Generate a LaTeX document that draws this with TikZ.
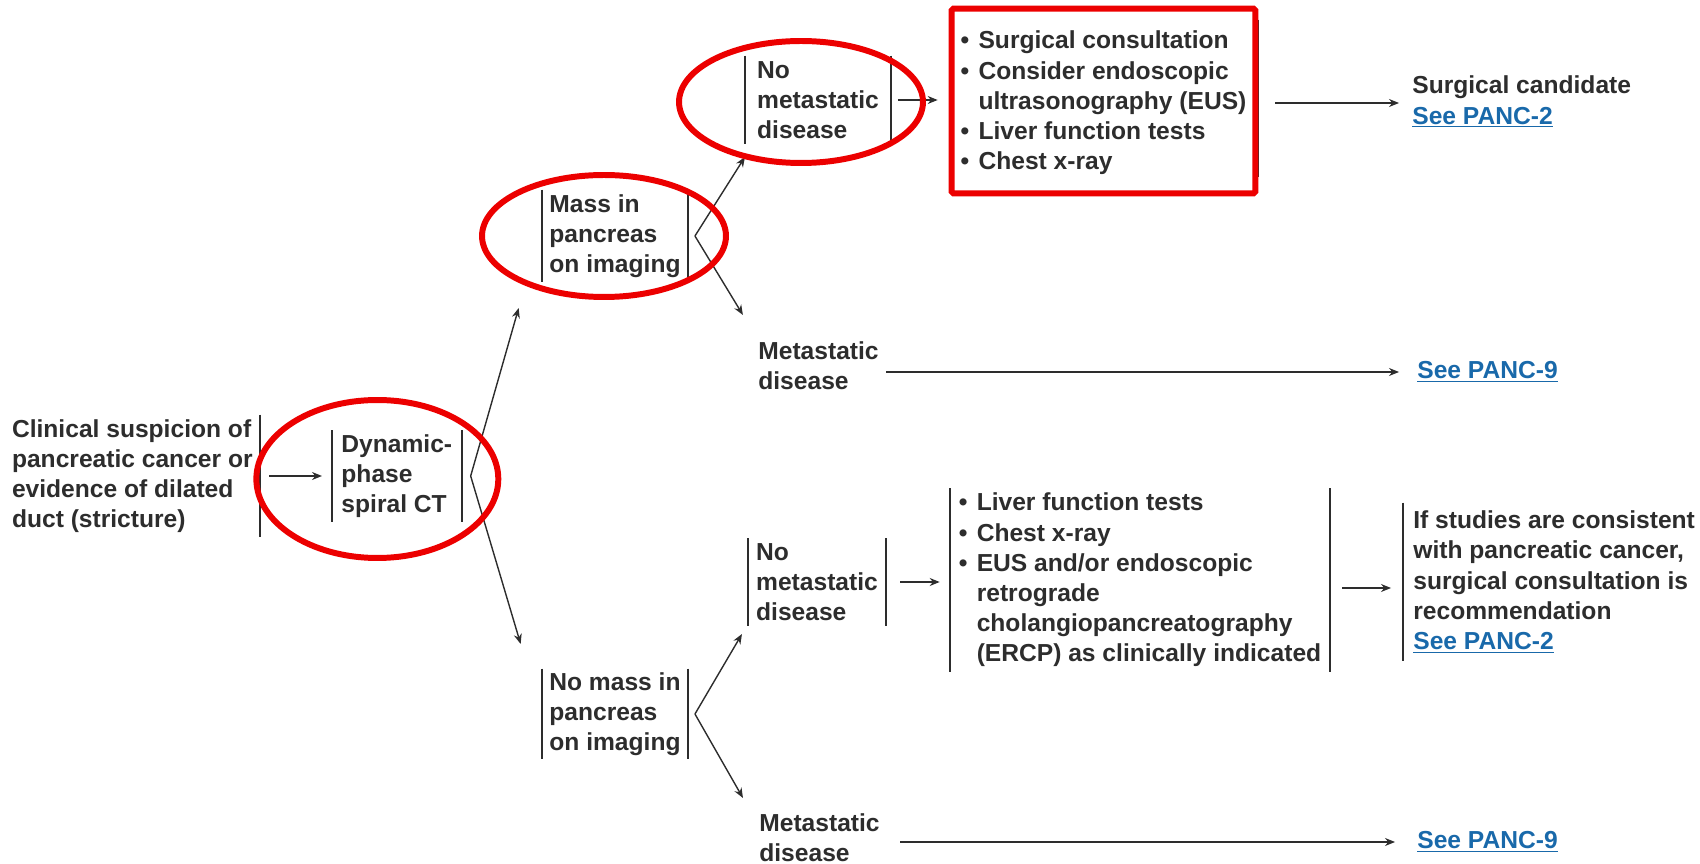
\documentclass[tikz,border=0pt]{standalone}
\usepackage{fontspec}
\setmainfont{Liberation Sans}
\usepackage{xcolor}
\usetikzlibrary{arrows.meta, positioning, calc}

\definecolor{inkgray}{RGB}{45,45,45}
\definecolor{notered}{RGB}{236,0,0}
\definecolor{linkblue}{RGB}{25,105,170}

\newcommand{\bul}{\makebox[0.36cm][l]{\textbullet}}
\newcommand{\cont}{\hspace*{0.36cm}}
\newcommand{\seelink}[1]{\textcolor{linkblue}{\underline{#1}}}

\begin{document}
\begin{tikzpicture}[x=0.02cm, y=-0.02cm,
    every node/.style={font=\fontsize{14}{17.2}\selectfont\bfseries, text=inkgray},
    stage/.style={align=left, inner xsep=0.14cm, inner ysep=0pt},
    plain/.style={align=left, inner sep=0.14cm},
    bar/.style={draw=inkgray, line width=1.1pt},
    arr/.style={draw=inkgray, line width=0.8pt, -{Stealth[length=0.2cm, width=0.16cm]}},
    ring/.style={draw=notered, line width=3.4pt}]
  \useasboundingbox (0,0) rectangle (1700,864);

  % Entry and imaging
  \node[stage, anchor=east, minimum height=2.44cm] (clin) at (260,476) {Clinical suspicion of\\pancreatic cancer or\\evidence of dilated\\duct (stricture)};
  \node[stage, minimum width=2.58cm, minimum height=1.82cm, right=1.44cm of clin] (dyn) {Dynamic-\\phase\\spiral CT};

  % Mass / no mass
  \node[stage, minimum width=2.88cm, minimum height=1.84cm] (mass) at (615,236) {Mass in\\pancreas\\on imaging};
  \node[stage, minimum width=2.88cm, minimum height=1.8cm] (nomass) at (615,714) {No mass in\\pancreas\\on imaging};

  % Upper branch
  \node[stage, minimum width=2.9cm, minimum height=1.76cm] (nmtop) at (818,100) {No\\metastatic\\disease};
  \node[stage, minimum width=6.06cm, minimum height=3.68cm] (tests) at (1103.5,103) {\bul Surgical consultation\\\bul Consider endoscopic\\\cont ultrasonography (EUS)\\\bul Liver function tests\\\bul Chest x-ray};
  \node[plain, anchor=west] (cand) at (1405,102) {Surgical candidate\\\seelink{See PANC-2}};
  \node[plain, anchor=west] (metmid) at (751,366) {Metastatic\\disease};
  \node[plain, anchor=west] (p9a) at (1410,372) {\seelink{See PANC-9}};

  % Lower branch
  \node[stage, minimum width=2.76cm, minimum height=1.74cm] (nmlow) at (817,582) {No\\metastatic\\disease};
  \node[stage, minimum width=7.6cm, minimum height=3.66cm] (lowlist) at (1140,580) {\bul Liver function tests\\\bul Chest x-ray\\\bul EUS and/or endoscopic\\\cont retrograde\\\cont cholangiopancreatography\\\cont (ERCP) as clinically indicated};
  \node[stage, anchor=west, minimum height=3.16cm, inner xsep=0.2cm] (consist) at (1403,582) {If studies are consistent\\with pancreatic cancer,\\surgical consultation is\\recommendation\\\seelink{See PANC-2}};
  \node[plain, anchor=west] (metlow) at (752,838) {Metastatic\\disease};
  \node[plain, anchor=west] (p9b) at (1410,842) {\seelink{See PANC-9}};

  % Bracket bars
  \draw[bar] (clin.north east) -- (clin.south east);
  \foreach \n in {dyn, mass, nomass, nmtop, nmlow, lowlist} {
    \draw[bar] (\n.north west) -- (\n.south west);
    \draw[bar] (\n.north east) -- (\n.south east);
  }
  \draw[bar] (consist.north west) -- (consist.south west);
  \draw[bar] ([xshift=0.06cm, yshift=-0.18cm]tests.north east) -- ([xshift=0.06cm, yshift=0.36cm]tests.south east);

  % Forks
  \coordinate (dynfork) at ([xshift=0.18cm]dyn.east);
  \coordinate (massfork) at ([xshift=0.14cm]mass.east);
  \coordinate (nomassfork) at ([xshift=0.14cm]nomass.east);
  \coordinate (dynup) at ([shift={(0.96cm,3.36cm)}]dynfork);
  \coordinate (dyndown) at ([shift={(1.0cm,-3.36cm)}]dynfork);
  \coordinate (massup) at ([shift={(1.0cm,1.58cm)}]massfork);
  \coordinate (massdown) at ([shift={(0.96cm,-1.58cm)}]massfork);
  \coordinate (nomassup) at ([shift={(0.94cm,1.6cm)}]nomassfork);
  \coordinate (nomassdown) at ([shift={(0.96cm,-1.68cm)}]nomassfork);

  \draw[arr] (dynfork) -- (dynup);
  \draw[arr] (dynfork) -- (dyndown);
  \draw[arr] (massfork) -- (massup);
  \draw[arr] (massfork) -- (massdown);
  \draw[arr] (nomassfork) -- (nomassup);
  \draw[arr] (nomassfork) -- (nomassdown);

  % Straight arrows
  \draw[arr, shorten <=0.18cm, shorten >=0.2cm] (clin.east) -- (dyn.west);
  \draw[arr, shorten <=0.14cm, shorten >=0.28cm] (nmtop.east) -- (nmtop.east -| tests.west);
  \draw[arr, shorten <=0.4cm, shorten >=0.12cm] (tests.east) -- (tests.east -| cand.west);
  \draw[arr, shorten >=0.22cm] (metmid.east |- p9a) -- (p9a.west);
  \draw[arr, shorten <=0.28cm, shorten >=0.2cm] (nmlow.east) -- (nmlow.east -| lowlist.west);
  \draw[arr, shorten <=0.24cm, shorten >=0.24cm] ([yshift=-0.16cm]lowlist.east) -- ([yshift=-0.16cm]lowlist.east -| consist.west);
  \draw[arr, shorten <=0.26cm, shorten >=0.3cm] (metlow.east |- p9b) -- (p9b.west);

  % Red highlights
  \draw[ring] ([xshift=-0.39cm, yshift=-0.06cm]dyn.center) ellipse [x radius=2.42cm, y radius=1.58cm];
  \draw[ring] ([xshift=-0.22cm]mass.center) ellipse [x radius=2.44cm, y radius=1.22cm];
  \draw[ring] ([xshift=-0.34cm, yshift=-0.04cm]nmtop.center) ellipse [x radius=2.44cm, y radius=1.22cm];
  \draw[ring, rounded corners=1pt] ([yshift=0.04cm]tests.north west) rectangle ([yshift=0.04cm]tests.south east);
\end{tikzpicture}
\end{document}
